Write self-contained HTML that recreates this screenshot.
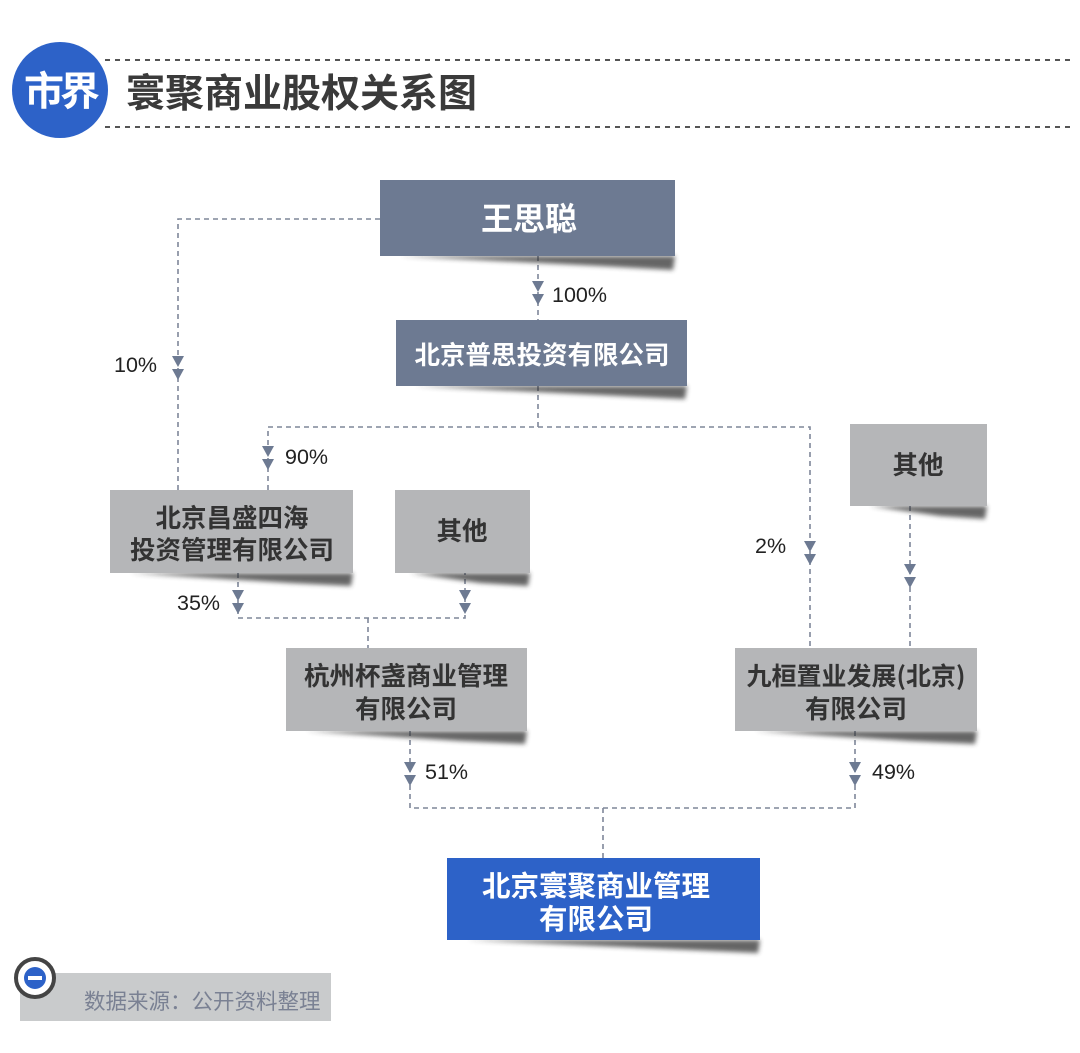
<!DOCTYPE html>
<html><head><meta charset="utf-8"><style>
html,body{margin:0;padding:0;background:#fff;}
svg{display:block;}
text{font-family:"Liberation Sans","Noto Sans CJK SC",sans-serif;}
.cj{font-family:"Noto Sans CJK SC","WenQuanYi Zen Hei",sans-serif;font-weight:bold;}
.pct{font-size:21.5px;fill:#222;}
</style></head><body>
<svg width="1080" height="1053" viewBox="0 0 1080 1053" xmlns="http://www.w3.org/2000/svg">
<defs>
<filter id="bl" x="-10%" y="-50%" width="120%" height="300%"><feGaussianBlur stdDeviation="2.5"/></filter>
<g id="ar"><polygon points="-6,0 6,0 0,11" fill="#6d7a92"/><polygon points="-6,13 6,13 0,24" fill="#6d7a92"/></g>
</defs>
<!-- header -->
<line x1="105" y1="60" x2="1072" y2="60" stroke="#555" stroke-width="2" stroke-dasharray="5,5"/>
<line x1="105" y1="127" x2="1072" y2="127" stroke="#555" stroke-width="2" stroke-dasharray="5,5"/>
<circle cx="60" cy="90" r="48" fill="#2d62c8"/>
<text x="60" y="105" class="cj" font-size="40" fill="#fff" text-anchor="middle" letter-spacing="-4">市界</text>
<text x="126" y="107" class="cj" font-size="39" fill="#3a3a3a">寰聚商业股权关系图</text>

<!-- connectors -->
<g stroke="#7f8799" stroke-width="1.6" stroke-dasharray="5,4" fill="none">
<polyline points="380,219 178,219 178,490"/>
<line x1="538" y1="256" x2="538" y2="320"/>
<polyline points="538,386 538,427"/>
<polyline points="268,490 268,427 810,427 810,648"/>
<line x1="910" y1="506" x2="910" y2="648"/>
<polyline points="238,573 238,618 465,618 465,573"/>
<line x1="368" y1="618" x2="368" y2="648"/>
<polyline points="410,731 410,808 855,808 855,731"/>
<line x1="603" y1="808" x2="603" y2="858"/>
</g>
<use href="#ar" x="178" y="356"/>
<use href="#ar" x="538" y="281"/>
<use href="#ar" x="268" y="446"/>
<use href="#ar" x="810" y="541"/>
<use href="#ar" x="910" y="564"/>
<use href="#ar" x="238" y="590"/>
<use href="#ar" x="465" y="590"/>
<use href="#ar" x="410" y="762"/>
<use href="#ar" x="855" y="762"/>
<text x="114" y="372" class="pct">10%</text>
<text x="552" y="302" class="pct">100%</text>
<text x="285" y="464" class="pct">90%</text>
<text x="755" y="553" class="pct">2%</text>
<text x="177" y="610" class="pct">35%</text>
<text x="425" y="779" class="pct">51%</text>
<text x="872" y="779" class="pct">49%</text>

<!-- shadows -->
<g fill="#333" filter="url(#bl)" opacity="0.75">
<polygon points="400,256 675,256 673,270 600,266"/>
<polygon points="415,386 687,386 685,399 620,396"/>
<polygon points="130,573 353,573 351,586 290,583"/>
<polygon points="410,573 530,573 528,586 480,583"/>
<polygon points="870,506 987,506 985,519 940,516"/>
<polygon points="306,731 527,731 525,744 460,741"/>
<polygon points="755,731 977,731 975,744 910,741"/>
<polygon points="467,940 760,940 758,953 690,950"/>
</g>

<!-- boxes -->
<rect x="380" y="180" width="295" height="76" fill="#6d7a92"/>
<text x="529" y="230" class="cj" font-size="32" fill="#fff" text-anchor="middle">王思聪</text>
<rect x="396" y="320" width="291" height="66" fill="#6d7a92"/>
<text x="542" y="364" class="cj" font-size="25.5" fill="#fff" text-anchor="middle">北京普思投资有限公司</text>

<rect x="110" y="490" width="243" height="83" fill="#b5b6b8"/>
<text x="232" y="527" class="cj" font-size="25.5" fill="#333" text-anchor="middle">北京昌盛四海</text>
<text x="232" y="559" class="cj" font-size="25.5" fill="#333" text-anchor="middle">投资管理有限公司</text>
<rect x="395" y="490" width="135" height="83" fill="#b5b6b8"/>
<text x="462" y="540" class="cj" font-size="25.5" fill="#333" text-anchor="middle">其他</text>
<rect x="850" y="424" width="137" height="82" fill="#b5b6b8"/>
<text x="918" y="474" class="cj" font-size="25.5" fill="#333" text-anchor="middle">其他</text>
<rect x="286" y="648" width="241" height="83" fill="#b5b6b8"/>
<text x="406" y="685" class="cj" font-size="25.5" fill="#333" text-anchor="middle">杭州杯盏商业管理</text>
<text x="406" y="718" class="cj" font-size="25.5" fill="#333" text-anchor="middle">有限公司</text>
<rect x="735" y="648" width="242" height="83" fill="#b5b6b8"/>
<text x="856" y="685" class="cj" font-size="25" fill="#333" text-anchor="middle">九桓置业发展(北京)</text>
<text x="856" y="718" class="cj" font-size="25.5" fill="#333" text-anchor="middle">有限公司</text>
<rect x="447" y="858" width="313" height="82" fill="#2d62c8"/>
<text x="596" y="896" class="cj" font-size="28.5" fill="#fff" text-anchor="middle">北京寰聚商业管理</text>
<text x="596" y="929" class="cj" font-size="28.5" fill="#fff" text-anchor="middle">有限公司</text>

<!-- footer -->
<rect x="20" y="973" width="311" height="48" fill="#c9cbcc"/>
<circle cx="35" cy="978" r="19" fill="#fff" stroke="#444" stroke-width="4"/>
<circle cx="35" cy="978" r="11" fill="#2d62c8"/>
<rect x="28" y="976" width="14" height="4" fill="#fff"/>
<text x="84" y="1009" font-size="21.5" fill="#7a8193" style="font-family:'Noto Sans CJK SC',sans-serif">数据来源：公开资料整理</text>
</svg>
</body></html>
